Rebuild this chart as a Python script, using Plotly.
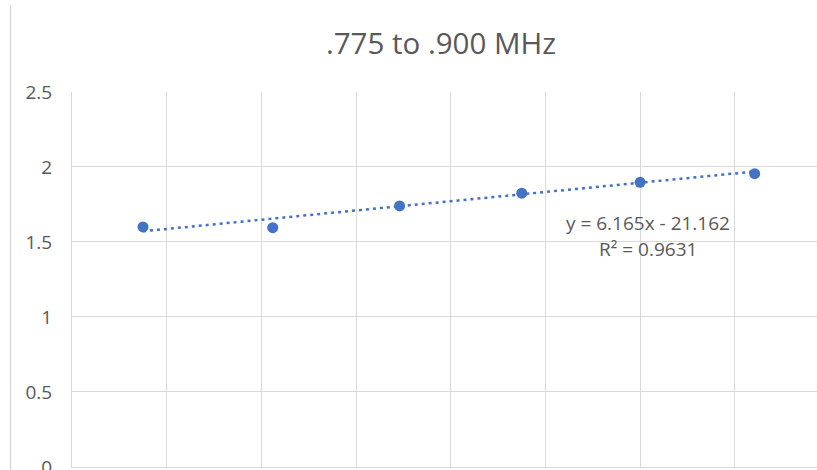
import plotly.graph_objects as go

x_vals = [3.6875, 3.7012, 3.7146, 3.7275, 3.7400, 3.7521]
y_vals = [1.60, 1.595, 1.74, 1.825, 1.898, 1.955]

# Excel linear trendline reported on the chart
slope = 6.165
intercept = -21.162
r_squared = 0.9631
title_text = ".775 to .900 MHz"
y_ticks = [0, 0.5, 1, 1.5, 2, 2.5]

W, H = 817, 470
L, R, T, B = 72, 0, 92, 3
plot_w = W - L - R
plot_h = H - T - B
x_min = 3.68
px_per_unit = 9468.6
x_max = x_min + plot_w / px_per_unit
y_min = -0.0005

blue = "#4472C4"
grid = "#D9D9D9"
txt = "#595959"
font_family = "Open Sans"

trend_x = [min(x_vals), max(x_vals)]
trend_y = [slope * v + intercept for v in trend_x]

fig = go.Figure()
fig.add_trace(go.Scatter(
    x=trend_x, y=trend_y, mode="lines",
    line=dict(color=blue, width=2.5, dash="3px,4px"),
    hoverinfo="skip", showlegend=False,
))
fig.add_trace(go.Scatter(
    x=x_vals, y=y_vals, mode="markers",
    marker=dict(color=blue, size=11, line=dict(width=0)),
    showlegend=False,
))

def px_to_x(px):
    return x_min + (px - L) / px_per_unit

def py_to_y(py):
    return (H - B - py) / plot_h * 2.5

fig.add_annotation(
    x=px_to_x(648), y=py_to_y(223), xref="x", yref="y",
    text=f"y = {slope}x - {abs(intercept)}", showarrow=False,
    font=dict(family=font_family, size=19, color=txt),
    xanchor="center", yanchor="middle",
)
fig.add_annotation(
    x=px_to_x(648), y=py_to_y(249), xref="x", yref="y",
    text=f"R² = {r_squared}", showarrow=False,
    font=dict(family=font_family, size=19, color=txt),
    xanchor="center", yanchor="middle",
)

# chart outer border (left edge visible in the reference)
fig.add_shape(
    type="line", xref="paper", yref="paper",
    x0=(10.5 - L) / plot_w, x1=(10.5 - L) / plot_w,
    y0=(H - B - 472) / plot_h, y1=(H - B - 5) / plot_h,
    line=dict(color=grid, width=1.5),
)

fig.update_layout(
    width=W, height=H,
    margin=dict(l=L, r=R, t=T, b=B, pad=0, autoexpand=False),
    paper_bgcolor="white", plot_bgcolor="white",
    title=dict(
        text=title_text, x=441 / W, xref="container", xanchor="center",
        y=1 - 44 / H, yref="container", yanchor="middle",
        font=dict(family=font_family, size=29.5, color=txt),
    ),
    xaxis=dict(
        range=[x_min, x_max], tick0=x_min, dtick=0.01,
        showticklabels=False, showgrid=True, gridcolor=grid, gridwidth=1,
        zeroline=False, showline=True, linecolor=grid, linewidth=1,
        ticks="", automargin=False,
    ),
    yaxis=dict(
        range=[y_min, 2.5], tickvals=y_ticks, ticktext=[f"{v:g}" for v in y_ticks],
        showgrid=True, gridcolor=grid, gridwidth=1,
        zeroline=False, showline=True, linecolor=grid, linewidth=1,
        ticks="", ticklabelstandoff=15, ticklabeloverflow="allow",
        automargin=False,
        tickfont=dict(family=font_family, size=19, color=txt),
    ),
)

fig.write_html(
    "out.html",
    config={"displayModeBar": False},
    post_script="document.body.style.margin='0';document.body.style.overflow='hidden';",
)
